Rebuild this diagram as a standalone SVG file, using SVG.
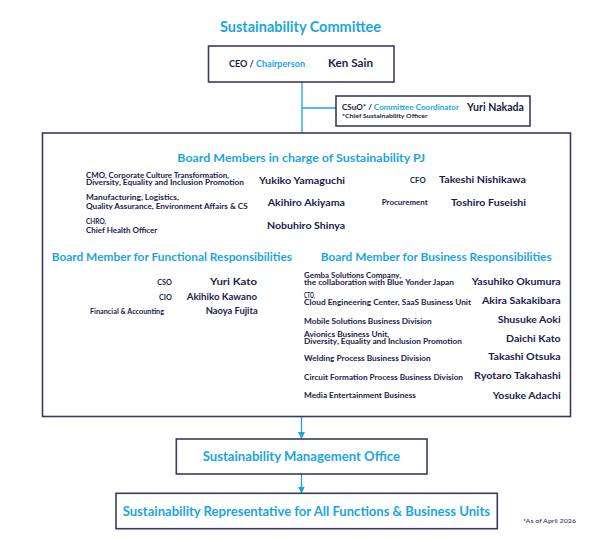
<svg xmlns="http://www.w3.org/2000/svg" width="600" height="550" viewBox="0 0 600 550">
<defs>
<style>
text{font-family:Lato,"Noto Sans","Liberation Sans",sans-serif;font-weight:700;fill:#1c1c4a}
.c{fill:#1ba5df}
.t{font-size:16px}
.h{font-size:11.8px}
.n{font-size:10.2px}
.l{font-size:7.4px}
.s{font-size:7px}
.box{fill:#fff;stroke:#3a3a62;stroke-width:1.6}
.ln{stroke:#1ba5df;stroke-width:1.3;fill:none}
</style>
<marker id="ah" markerWidth="7" markerHeight="8" refX="6" refY="3.5" orient="auto" markerUnits="userSpaceOnUse">
<path d="M0,0 L7,3.5 L0,7 z" fill="#1ba5df"/>
</marker>
</defs>
<rect width="600" height="550" fill="#fff"/>
<text class="t c" x="220" y="31.5" textLength="161" lengthAdjust="spacingAndGlyphs">Sustainability Committee</text>

<g id="connectors">
<line class="ln" x1="302" y1="82" x2="302" y2="133"/>
<line class="ln" x1="302" y1="108" x2="336" y2="108"/>
<line class="ln" x1="301.5" y1="417" x2="301.5" y2="438" marker-end="url(#ah)"/>
<line class="ln" x1="301.5" y1="474" x2="301.5" y2="492.5" marker-end="url(#ah)"/>
</g>

<g id="ceo">
<rect class="box" x="208.5" y="46" width="185.5" height="36"/>
<text style="font-size:9px" x="229" y="67" textLength="76" lengthAdjust="spacingAndGlyphs">CEO / <tspan class="c">Chairperson</tspan></text>
<text style="font-size:11.8px" x="328" y="67" textLength="45" lengthAdjust="spacingAndGlyphs">Ken Sain</text>
</g>

<g id="csuo">
<rect class="box" x="336" y="96" width="194" height="30"/>
<text style="font-size:8px" x="342" y="110" textLength="117" lengthAdjust="spacingAndGlyphs">CSuO* / <tspan class="c">Committee Coordinator</tspan></text>
<text style="font-size:10.5px" x="467" y="110.5" textLength="57" lengthAdjust="spacingAndGlyphs">Yuri Nakada</text>
<text style="font-size:5.8px" x="342" y="118.3" textLength="85.7" lengthAdjust="spacingAndGlyphs">*Chief Sustainability Officer</text>
</g>

<g id="board">
<rect class="box" x="42.5" y="133" width="528" height="283.5"/>
<text class="h c" x="177.3" y="161.7" textLength="247.7" lengthAdjust="spacingAndGlyphs">Board Members in charge of Sustainability PJ</text>

<text class="l" x="86" y="177.7" textLength="143" lengthAdjust="spacingAndGlyphs">CMO, Corporate Culture Transformation,</text>
<text class="l" x="86" y="185.3" textLength="158" lengthAdjust="spacingAndGlyphs">Diversity, Equality and Inclusion Promotion</text>
<text class="n" x="259" y="183.7" textLength="86" lengthAdjust="spacingAndGlyphs">Yukiko Yamaguchi</text>
<text class="l" x="86" y="200.3" textLength="93" lengthAdjust="spacingAndGlyphs">Manufacturing, Logistics,</text>
<text class="l" x="86" y="209.3" textLength="161.7" lengthAdjust="spacingAndGlyphs">Quality Assurance, Environment Affairs &amp; CS</text>
<text class="n" x="267.7" y="206.3" textLength="77.3" lengthAdjust="spacingAndGlyphs">Akihiro Akiyama</text>
<text class="l" x="86" y="224.3" textLength="20" lengthAdjust="spacingAndGlyphs">CHRO,</text>
<text class="l" x="86" y="232.7" textLength="71.3" lengthAdjust="spacingAndGlyphs">Chief Health Officer</text>
<text class="n" x="267" y="229.3" textLength="78" lengthAdjust="spacingAndGlyphs">Nobuhiro Shinya</text>
<text class="l" x="410" y="183.3" textLength="15.7" lengthAdjust="spacingAndGlyphs">CFO</text>
<text class="n" x="439" y="183.3" textLength="87" lengthAdjust="spacingAndGlyphs">Takeshi Nishikawa</text>
<text class="l" x="381.7" y="205.3" textLength="46" lengthAdjust="spacingAndGlyphs">Procurement</text>
<text class="n" x="451" y="205.7" textLength="75" lengthAdjust="spacingAndGlyphs">Toshiro Fuseishi</text>

<text class="h c" x="51.7" y="260.7" textLength="240.3" lengthAdjust="spacingAndGlyphs">Board Member for Functional Responsibilities</text>
<text class="l" x="157.3" y="285" textLength="14.7" lengthAdjust="spacingAndGlyphs">CSO</text>
<text class="n" x="210" y="285" textLength="47" lengthAdjust="spacingAndGlyphs">Yuri Kato</text>
<text class="l" x="159" y="300" textLength="13" lengthAdjust="spacingAndGlyphs">CIO</text>
<text class="n" x="186.7" y="300" textLength="70.3" lengthAdjust="spacingAndGlyphs">Akihiko Kawano</text>
<text class="l" x="90" y="314" textLength="74" lengthAdjust="spacingAndGlyphs">Financial &amp; Accounting</text>
<text class="n" x="205.7" y="313.5" textLength="52" lengthAdjust="spacingAndGlyphs">Naoya Fujita</text>

<text class="h c" x="320.7" y="260.7" textLength="231" lengthAdjust="spacingAndGlyphs">Board Member for Business Responsibilities</text>
<text class="s" x="304" y="278.3" textLength="97" lengthAdjust="spacingAndGlyphs">Gemba Solutions Company,</text>
<text class="s" x="304" y="285.3" textLength="150" lengthAdjust="spacingAndGlyphs">the collaboration with Blue Yonder Japan</text>
<text class="n" x="471.7" y="285" textLength="89" lengthAdjust="spacingAndGlyphs">Yasuhiko Okumura</text>
<text class="s" x="304" y="298.3" textLength="11" lengthAdjust="spacingAndGlyphs">CTO,</text>
<text class="s" x="304" y="305" textLength="167" lengthAdjust="spacingAndGlyphs">Cloud Engineering Center, SaaS Business Unit</text>
<text class="n" x="482" y="304" textLength="78.7" lengthAdjust="spacingAndGlyphs">Akira Sakakibara</text>
<text class="l" x="304" y="324" textLength="127.7" lengthAdjust="spacingAndGlyphs">Mobile Solutions Business Division</text>
<text class="n" x="497.7" y="322.7" textLength="63" lengthAdjust="spacingAndGlyphs">Shusuke Aoki</text>
<text class="s" x="304" y="336.7" textLength="85.3" lengthAdjust="spacingAndGlyphs">Avionics Business Unit,</text>
<text class="s" x="304" y="344.3" textLength="158" lengthAdjust="spacingAndGlyphs">Diversity, Equality and Inclusion Promotion</text>
<text class="n" x="506" y="341.7" textLength="54.7" lengthAdjust="spacingAndGlyphs">Daichi Kato</text>
<text class="l" x="304" y="360.7" textLength="126.7" lengthAdjust="spacingAndGlyphs">Welding Process Business Division</text>
<text class="n" x="488.3" y="360" textLength="72.3" lengthAdjust="spacingAndGlyphs">Takashi Otsuka</text>
<text class="l" x="304" y="380" textLength="159" lengthAdjust="spacingAndGlyphs">Circuit Formation Process Business Division</text>
<text class="n" x="474" y="379.3" textLength="86.7" lengthAdjust="spacingAndGlyphs">Ryotaro Takahashi</text>
<text class="l" x="304" y="398.3" textLength="112" lengthAdjust="spacingAndGlyphs">Media Entertainment Business</text>
<text class="n" x="492.7" y="398.7" textLength="68" lengthAdjust="spacingAndGlyphs">Yosuke Adachi</text>
</g>

<g id="office">
<rect class="box" x="176.3" y="439" width="250.7" height="35"/>
<text class="c" style="font-size:12.8px" x="202.7" y="460.7" textLength="197.3" lengthAdjust="spacingAndGlyphs">Sustainability Management Office</text>
</g>

<g id="representative">
<rect class="box" x="116" y="493.3" width="381.3" height="35.4"/>
<text class="c" style="font-size:12.6px" x="122.7" y="515.7" textLength="367.3" lengthAdjust="spacingAndGlyphs">Sustainability Representative for All Functions &amp; Business Units</text>
</g>

<text style="font-size:5.8px;font-weight:400" x="523" y="523.3" textLength="53" lengthAdjust="spacingAndGlyphs">*As of April 2026</text>
</svg>
